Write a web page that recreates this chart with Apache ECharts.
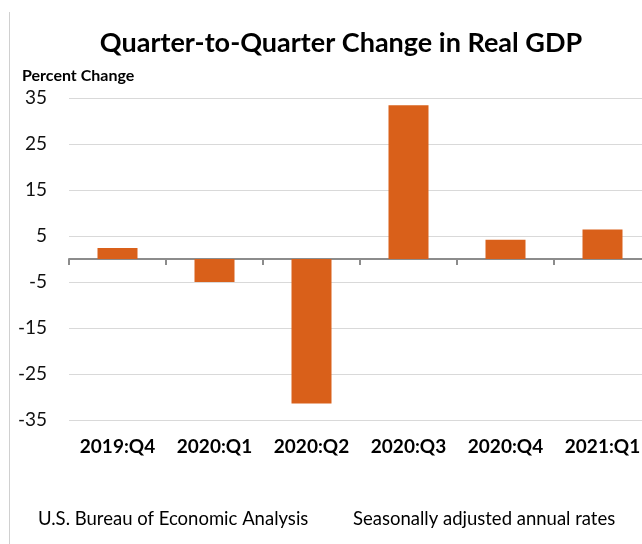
<!DOCTYPE html>
<html><head><meta charset="utf-8">
<script src="https://cdn.jsdelivr.net/npm/echarts@6/dist/echarts.min.js"></script>
<style>html,body{margin:0;padding:0;background:#fff}#c{width:642px;height:544px}</style>
</head><body><div id="c"></div>
<script>
const categories = ['2019:Q4','2020:Q1','2020:Q2','2020:Q3','2020:Q4','2021:Q1'];
const values = [2.4, -5.0, -31.4, 33.4, 4.2, 6.4];
const yMin = -35, yMax = 35, yInterval = 10;

const chart = echarts.init(document.getElementById('c'));
const font = 'Lato, "Open Sans", sans-serif';
chart.setOption({
  animation: false,
  backgroundColor: '#fff',
  title: {
    text: 'Quarter-to-Quarter Change in Real GDP',
    left: 336, top: 25, textAlign: 'center',
    textStyle: {fontFamily: font, fontSize: 27, fontWeight: 'bold', color: '#000'}
  },
  graphic: [
    {type: 'line', shape: {x1: 9.5, y1: 12, x2: 9.5, y2: 544}, style: {stroke: '#d0d0d0', lineWidth: 1}},
    {type: 'text', left: 22, top: 68, style: {text: 'Percent Change', font: 'bold 16px ' + font, fill: '#000'}},
    {type: 'text', left: 38, top: 510, style: {text: 'U.S. Bureau of Economic Analysis', font: '18.5px ' + font, fill: '#000'}},
    {type: 'text', left: 353, top: 510, style: {text: 'Seasonally adjusted annual rates', font: '18.5px ' + font, fill: '#000'}}
  ],
  grid: {left: 69, top: 98, width: 582, bottom: 124, containLabel: false, outerBoundsMode: 'none'},
  xAxis: [
    {type: 'category', data: categories, position: 'bottom',
     axisLine: {onZero: true, lineStyle: {color: '#8c8c8c', width: 2}},
     axisTick: {show: true, length: 6, lineStyle: {color: '#8c8c8c', width: 2}},
     axisLabel: {show: false}, splitLine: {show: false}},
    {type: 'category', data: categories, position: 'bottom', gridIndex: 0,
     axisLine: {show: false, onZero: false}, axisTick: {show: false},
     axisLabel: {show: true, interval: 0, hideOverlap: false, margin: 17, fontFamily: font, fontSize: 19, fontWeight: 'bold', color: '#000'}}
  ],
  yAxis: {
    type: 'value', min: yMin, max: yMax, interval: yInterval,
    axisLine: {show: false}, axisTick: {show: false},
    axisLabel: {margin: 22, fontFamily: font, fontSize: 19, color: '#111'},
    splitLine: {lineStyle: {color: '#d9d9d9', width: 1}}
  },
  series: [{
    type: 'bar', data: values, xAxisIndex: 0, barWidth: 40,
    itemStyle: {color: '#D9601A'}
  }]
});
</script></body></html>
